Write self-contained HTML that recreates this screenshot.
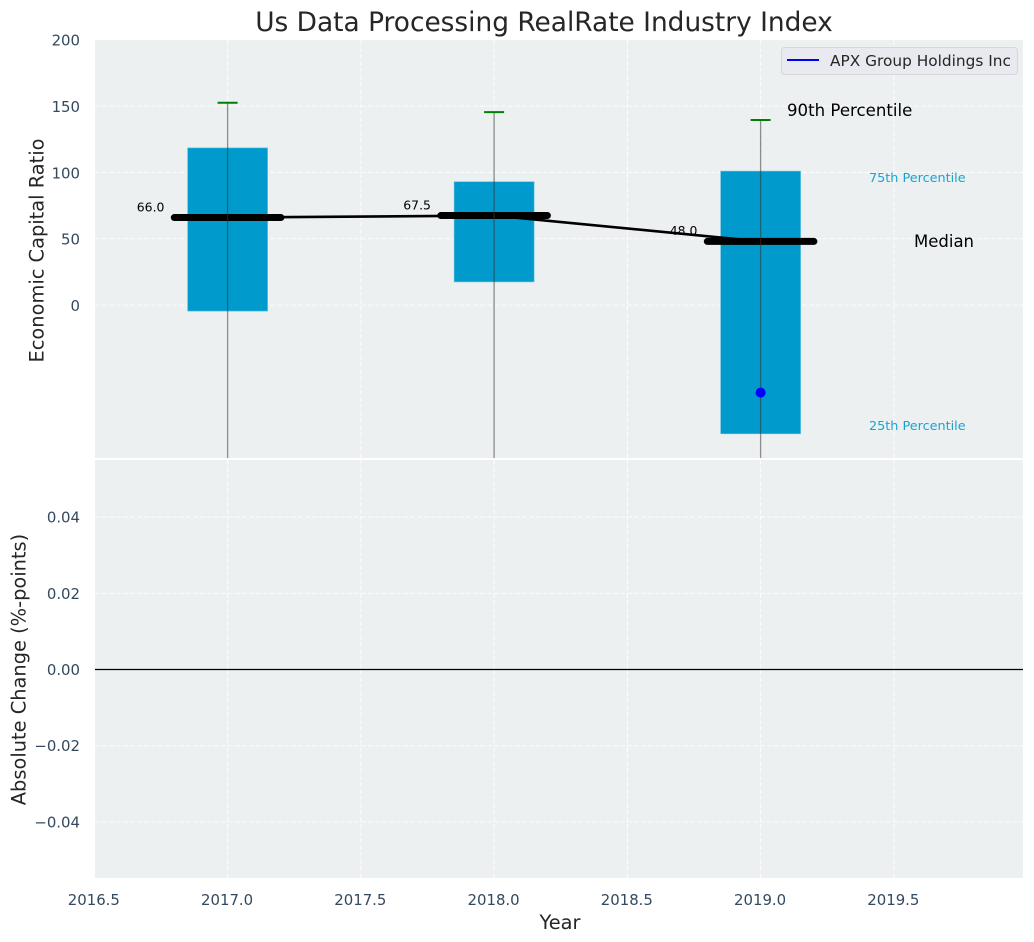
<!DOCTYPE html>
<html><head><meta charset="utf-8"><style>
html,body{margin:0;padding:0;background:#fff}
svg{display:block}
text{font-family:"DejaVu Sans",sans-serif}
.tick{font-size:14.9px;fill:#34495e}
.label{font-size:19.4px;fill:#262626}
</style></head><body>
<svg id="chart" width="1034" height="942" viewBox="0 0 1034 942">
<defs>
<clipPath id="top-clip"><rect x="95" y="40" width="928" height="418"/></clipPath>
<clipPath id="bottom-clip"><rect x="95" y="460" width="928" height="418"/></clipPath>
</defs>
<rect x="95" y="40" width="928" height="418" fill="#ecf0f1"/>
<rect x="95" y="460" width="928" height="418" fill="#ecf0f1"/>
<g id="grid"></g>
<g id="marks" clip-path="url(#top-clip)"></g>
<line id="zero-line" x1="95" x2="1023" stroke="#000" stroke-width="1.2"/>
<g id="ticks"></g>
<g id="value-labels"></g>
<text x="544" y="31" text-anchor="middle" font-size="26.4" fill="#262626">Us Data Processing RealRate Industry Index</text>
<text x="560" y="929" text-anchor="middle" class="label">Year</text>
<text transform="translate(43.5 250.5) rotate(-90)" text-anchor="middle" class="label">Economic Capital Ratio</text>
<text transform="translate(25.5 669.5) rotate(-90)" text-anchor="middle" class="label">Absolute Change (%-points)</text>
<text x="787" y="116" font-size="16.6" fill="#000">90th Percentile</text>
<text x="869" y="182" font-size="12.8" fill="#009ccc" fill-opacity="0.9">75th Percentile</text>
<text x="914" y="247" font-size="16.5" fill="#000">Median</text>
<text x="869" y="430" font-size="12.8" fill="#009ccc" fill-opacity="0.9">25th Percentile</text>
<g>
<rect x="781.5" y="47.5" width="236" height="27" rx="3" fill="#e8eaef" stroke="#d5d7db"/>
<line x1="787" x2="819" y1="60" y2="60" stroke="#0000ff" stroke-width="2"/>
<text x="830" y="66" font-size="15.35" fill="#262626">APX Group Holdings Inc</text>
</g>
</svg>
<script>
const years = [2017, 2018, 2019];
const p90 = [152.5, 145.5, 139.5];
const p75 = [118.5, 93, 101];
const medians = [66, 67.5, 48];
const p25 = [-4.5, 17.5, -97];
const p10 = [-210, -200, -230];
const companyYears = [2019];
const companyValues = [-66];
const medianLabels = ['66.0', '67.5', '48.0'];
const xTicks = [2016.5, 2017, 2017.5, 2018, 2018.5, 2019, 2019.5];
const xTickLabels = ['2016.5', '2017.0', '2017.5', '2018.0', '2018.5', '2019.0', '2019.5'];
const topYTicks = [0, 50, 100, 150, 200];
const topYTickLabels = ['0', '50', '100', '150', '200'];
const bottomYTicks = [-0.04, -0.02, 0, 0.02, 0.04];
const bottomYTickLabels = ['\u22120.04', '\u22120.02', '0.00', '0.02', '0.04'];

const NS = 'http://www.w3.org/2000/svg';
const xScale = v => 227.6 + (v - 2017) * 266.5;
const yTop = v => 305.1 - v * 1.3265;
const yBottom = v => 669.5 - v * 3810;
function mk(parent, tag, attrs) {
  const el = document.createElementNS(NS, tag);
  for (const k in attrs) el.setAttribute(k, attrs[k]);
  parent.appendChild(el);
  return el;
}
const grid = document.getElementById('grid');
const marks = document.getElementById('marks');
const ticks = document.getElementById('ticks');
const valueLabels = document.getElementById('value-labels');
const gridStyle = {stroke: '#fff', 'stroke-width': 1, 'stroke-dasharray': '5 2', 'stroke-opacity': 0.85};

xTicks.forEach((t, i) => {
  if (t > 2016.5) {
    const g1 = mk(grid, 'line', Object.assign({x1: xScale(t), x2: xScale(t), y1: 40, y2: 458}, gridStyle));
    
    
    const g2 = mk(grid, 'line', Object.assign({x1: xScale(t), x2: xScale(t), y1: 460, y2: 878}, gridStyle));
    
    
  }
  const lab = mk(ticks, 'text', {x: xScale(t) - 0.5, y: 905, 'text-anchor': 'middle', class: 'tick'});
  lab.textContent = xTickLabels[i];
  
  
});
topYTicks.forEach((t, i) => {
  if (t < 200) {
    const g = mk(grid, 'line', Object.assign({x1: 95, x2: 1023, y1: yTop(t), y2: yTop(t)}, gridStyle));
    
    
  }
  const lab = mk(ticks, 'text', {x: 80, y: yTop(t) + 5.9, 'text-anchor': 'end', class: 'tick'});
  lab.textContent = topYTickLabels[i];
  
  
});
bottomYTicks.forEach((t, i) => {
  if (t !== 0) {
    const g = mk(grid, 'line', Object.assign({x1: 95, x2: 1023, y1: yBottom(t), y2: yBottom(t)}, gridStyle));
    
    
  }
  const lab = mk(ticks, 'text', {x: 80, y: yBottom(t) + 5.5, 'text-anchor': 'end', class: 'tick'});
  lab.textContent = bottomYTickLabels[i];
  
  
});
const zero = document.getElementById('zero-line');
zero.setAttribute('y1', yBottom(0));
zero.setAttribute('y2', yBottom(0));

years.forEach((yr, i) => {
  const box = mk(marks, 'rect', {x: xScale(yr - 0.15), y: yTop(p75[i]), width: xScale(yr + 0.15) - xScale(yr - 0.15), height: yTop(p25[i]) - yTop(p75[i]), fill: '#009bcc', stroke: '#5cbfdf', 'stroke-width': 0.6});
  
  
});
const trend = mk(marks, 'polyline', {fill: 'none', stroke: '#000', 'stroke-width': 2.6, points: years.map((yr, i) => xScale(yr) + ',' + yTop(medians[i])).join(' ')});


years.forEach((yr, i) => {
  const med = mk(marks, 'line', {x1: xScale(yr - 0.2), x2: xScale(yr + 0.2), y1: yTop(medians[i]), y2: yTop(medians[i]), stroke: '#000', 'stroke-width': 7, 'stroke-linecap': 'round'});
  
  
  const whisker = mk(marks, 'line', {x1: xScale(yr), x2: xScale(yr), y1: yTop(p90[i]), y2: yTop(p10[i]), stroke: '#333', 'stroke-opacity': 0.55, 'stroke-width': 1.3});
  
  
  const cap = mk(marks, 'line', {x1: xScale(yr) - 10, x2: xScale(yr) + 10, y1: yTop(p90[i]), y2: yTop(p90[i]), stroke: '#008000', 'stroke-width': 2});
  
  
  const lab = mk(valueLabels, 'text', {x: xScale(yr) - 77, y: yTop(medians[i]) - 6.2, 'text-anchor': 'middle', 'font-size': 12.4, fill: '#000'});
  lab.textContent = medianLabels[i];
  
  
});
companyYears.forEach((yr, i) => {
  const dot = mk(marks, 'circle', {cx: xScale(yr), cy: yTop(companyValues[i]), r: 5, fill: '#0000ff'});
  
  
});
</script>
</body></html>
